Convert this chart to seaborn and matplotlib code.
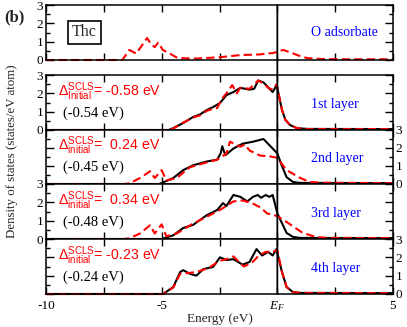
import numpy as np
import pandas as pd
import seaborn as sns
import matplotlib.pyplot as plt
from matplotlib.patches import ConnectionPatch
from matplotlib.ticker import MultipleLocator

sns.set_theme(style='ticks')
plt.rcParams['font.family'] = ['Liberation Serif', 'DejaVu Serif']
plt.rcParams['mathtext.fontset'] = 'custom'
plt.rcParams['mathtext.rm'] = 'Liberation Sans'
plt.rcParams['mathtext.it'] = 'Liberation Serif:italic'
plt.rcParams['mathtext.sf'] = 'Liberation Sans'
plt.rcParams['lines.dashed_pattern'] = [4, 2]

# O adsorbate (red only)
e_O = [-10, -6.7, -6.4, -6.1, -5.85, -5.63, -5.45, -5.3, -5.15, -4.95, -4.65, -4.3,
       -3.5, -2.5, -1.6, -0.8, -0.2, 0.0, 0.25, 0.6, 0.9, 1.3, 2.0, 3.0, 5.0]
d_O = [0, 0, 0.55, 0.35, 0.8, 1.2, 0.85, 0.7, 0.95, 0.55, 0.35, 0.1,
       0.08, 0.15, 0.27, 0.3, 0.38, 0.44, 0.55, 0.4, 0.25, 0.1, 0.05, 0.04, 0.04]

# 1st layer
e_1k = [-10, -4.7, -4.5, -4.07, -3.64, -3.34, -3.05, -2.78, -2.48, -2.2, -1.9, -1.6,
        -1.2, -1.0, -0.83, -0.6, -0.45, -0.2, -0.03, 0.2, 0.35, 0.55, 0.85, 1.3, 5]
d_1k = [0, 0, 0.1, 0.38, 0.71, 0.85, 1.09, 1.25, 1.47, 1.9, 2.07, 2.3,
        2.2, 2.25, 2.7, 2.6, 2.4, 2.07, 2.45, 1.1, 0.55, 0.27, 0.1, 0.06, 0.05]
e_1r = [-10, -4.7, -4.5, -4.07, -3.64, -3.34, -3.05, -2.78, -2.6, -2.4, -2.2, -1.95, -1.75,
        -1.6, -1.2, -0.83, -0.6, -0.4, -0.2, -0.03, 0.2, 0.35, 0.55, 0.85, 1.3, 5]
d_1r = [0, 0, 0.08, 0.4, 0.68, 0.8, 1.05, 1.15, 1.2, 1.7, 2.0, 2.45, 2.0,
        2.3, 2.25, 2.7, 2.55, 2.3, 2.2, 2.5, 1.1, 0.55, 0.27, 0.1, 0.05, 0.05]

# 2nd layer
e_2k = [-10, -5.1, -4.5, -4.07, -3.64, -3.05, -2.6, -2.45, -2.38, -2.25, -1.9, -1.5,
        -1.05, -0.6, -0.3, 0.0, 0.2, 0.4, 0.68, 1.0, 5]
d_2k = [0, 0, 0.33, 0.77, 1.04, 1.25, 1.35, 1.7, 2.1, 1.6, 1.97, 2.24,
        2.35, 2.5, 2.1, 1.7, 1.0, 0.38, 0.11, 0.06, 0.05]
e_2r = [-10, -6.6, -6.37, -5.94, -5.5, -5.3, -5.0, -4.8, -4.35, -3.78, -3.05, -2.6,
        -2.2, -2.05, -1.6, -1.4, -1.2, -0.75, -0.3, 0.0, 0.4, 1.0, 1.4, 2.0, 5]
d_2r = [0, 0, 0.05, 0.33, 0.71, 0.33, 0.77, 0.2, 0.33, 0.93, 1.2, 1.35,
        1.69, 2.35, 2.07, 2.2, 1.86, 1.58, 1.53, 1.45, 0.77, 0.33, 0.11, 0.07, 0.05]

# 3rd layer
e_3k = [-10, -5.0, -4.5, -4.07, -3.64, -3.05, -2.6, -2.35, -2.2, -1.9, -1.6, -1.3,
        -1.05, -0.85, -0.7, -0.5, -0.35, -0.2, 0.0, 0.4, 0.68, 1.0, 5]
d_3k = [0, 0, 0.2, 0.6, 0.77, 1.3, 1.58, 1.96, 1.8, 2.4, 2.3, 2.05,
        2.3, 2.4, 2.25, 2.4, 2.3, 2.4, 1.4, 0.33, 0.11, 0.06, 0.05]
e_3r = [-10, -6.6, -6.37, -5.94, -5.5, -5.3, -5.0, -4.8, -4.35, -3.7, -3.0, -2.6,
        -2.2, -1.9, -1.5, -1.1, -0.7, -0.45, 0.0, 0.4, 1.1, 1.7, 2.2, 5]
d_3r = [0, 0, 0.05, 0.3, 0.75, 0.3, 0.8, 0.15, 0.3, 0.8, 1.25, 1.5,
        1.8, 2.05, 2.1, 1.96, 1.7, 1.4, 1.25, 0.93, 0.33, 0.1, 0.06, 0.05]

# 4th layer
e_4k = [-10, -4.94, -4.5, -4.2, -4.07, -3.78, -3.5, -3.2, -2.78, -2.48, -2.2, -1.9,
        -1.5, -1.2, -0.9, -0.66, -0.4, -0.2, -0.04, 0.2, 0.4, 0.68, 1.0, 5]
d_4k = [0, 0, 0.38, 1.2, 1.3, 1.1, 1.0, 1.36, 1.47, 2.0, 1.85, 1.9,
        1.6, 1.75, 2.45, 2.1, 2.3, 2.1, 2.45, 1.2, 0.38, 0.1, 0.06, 0.05]
e_4r = [-10, -4.94, -4.5, -4.2, -3.8, -3.5, -3.0, -2.5, -2.2, -1.9, -1.45, -1.1,
        -0.8, -0.5, -0.2, 0.0, 0.2, 0.4, 0.68, 1.0, 5]
d_4r = [0, 0, 0.35, 1.1, 1.15, 1.2, 1.4, 1.8, 1.9, 2.05, 1.5, 1.7,
        2.1, 2.3, 2.3, 2.4, 1.2, 0.38, 0.1, 0.06, 0.05]

layer_names = ['1st layer', '2nd layer', '3rd layer', '4th layer']
delta_init = ['-0.58', ' 0.24', ' 0.34', '-0.23']
delta_sub = ['Initial', 'initial', 'initial', 'initial']
delta_other = ['(-0.54 eV)', '(-0.45 eV)', '(-0.48 eV)', '(-0.24 eV)']
black_sets = [(e_1k, d_1k), (e_2k, d_2k), (e_3k, d_3k), (e_4k, d_4k)]
red_sets = [(e_1r, d_1r), (e_2r, d_2r), (e_3r, d_3r), (e_4r, d_4r)]
E_F = 0.0

W, H = 407, 327
fig = plt.figure(figsize=(W / 100, H / 100), dpi=100)


def box(top, bot, left=46, right=393):
    return [left / W, 1 - bot / H, (right - left) / W, (bot - top) / H]


def style(ax, side):
    ax.set_xlim(-10, 5)
    ax.set_ylim(0, 3)
    ax.xaxis.set_major_locator(MultipleLocator(2.5))
    ax.yaxis.set_major_locator(MultipleLocator(1))
    ax.yaxis.set_minor_locator(MultipleLocator(0.5))
    ax.tick_params(which='both', direction='in', top=True, bottom=True,
                   left=True, right=True, labelbottom=False,
                   labelleft=(side == 'left'), labelright=(side == 'right'),
                   width=1, colors='black', labelsize=9.5, pad=2)
    ax.tick_params(axis='x', which='major', length=5, pad=4)
    ax.tick_params(axis='y', which='major', length=6)
    ax.tick_params(axis='y', which='minor', length=3)
    for s in ax.spines.values():
        s.set_linewidth(1.1)
        s.set_color('black')
    ax.set_xlabel('')
    ax.set_ylabel('')


# top panel
ax0 = fig.add_axes(box(5, 60))
sns.lineplot(x=e_O, y=d_O, ax=ax0, color='red', linestyle='--', lw=1.5, clip_on=False)
style(ax0, 'left')
ax0.text(0.763, 0.5, 'O adsorbate', transform=ax0.transAxes, color='blue',
         fontsize=10, va='center', ha='left')
ax0.text(0.111, 0.5, 'Thc', transform=ax0.transAxes, fontsize=11.5, va='center', ha='center',
         bbox=dict(boxstyle='square,pad=0.25', fc='white', ec='black', lw=1.2))

tops = [75, 130, 184, 239]
bots = [130, 184, 239, 294]
sides = ['left', 'right', 'left', 'right']
axes = [ax0]
for i in range(4):
    ax = fig.add_axes(box(tops[i], bots[i]))
    ek, dk = black_sets[i]
    er, dr = red_sets[i]
    sns.lineplot(x=ek, y=dk, ax=ax, color='black', lw=1.5, clip_on=False)
    sns.lineplot(x=er, y=dr, ax=ax, color='red', linestyle='--', lw=1.5, clip_on=False)
    style(ax, sides[i])
    ax.text(0.763, 0.47, layer_names[i], transform=ax.transAxes, color='blue',
            fontsize=10, va='center', ha='left')
    ax.text(0.035, 0.70,
            r'$\Delta^{\rm SCLS}_{\rm %s}$= %s eV' % (delta_sub[i], delta_init[i]),
            transform=ax.transAxes, color='red', fontsize=10.2, va='center', ha='left',
            family='Liberation Sans')
    ax.text(0.048, 0.31, delta_other[i], transform=ax.transAxes, color='black',
            fontsize=10.5, va='center', ha='left')
    axes.append(ax)

axb = axes[-1]
axb.tick_params(labelbottom=True)
axb.set_xticks([-10, -7.5, -5, -2.5, 0, 2.5, 5])
axb.set_xticklabels(['-10', '', '-5', '', r'$E_F$', '', '5'])
axb.set_xlabel('Energy (eV)', fontsize=9.5, labelpad=0)

# Fermi level line through all panels
con = ConnectionPatch(xyA=(E_F, 3), coordsA=ax0.transData,
                      xyB=(E_F, 0), coordsB=axb.transData,
                      color='black', lw=1.3)
fig.add_artist(con)

fig.text(14 / W, 1 - 17 / H, '(b)', fontsize=12, fontweight='bold',
         ha='center', va='center')
fig.text(12 / W, 1 - 151 / H, 'Density of states (states/eV atom)', fontsize=9.3,
         rotation=90, ha='center', va='center')

fig.savefig('out.png', dpi=100)
